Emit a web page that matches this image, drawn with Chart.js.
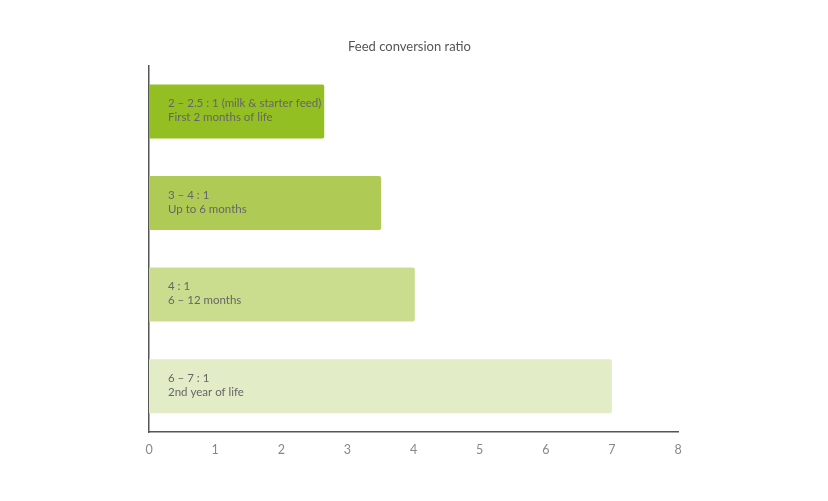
<!DOCTYPE html>
<html>
<head>
<meta charset="utf-8">
<script src="https://cdn.jsdelivr.net/npm/chart.js@4"></script>
<style>
    html, body { margin: 0; padding: 0; background: #fff; }
    #wrap { width: 828px; height: 501px; }
</style>
</head>
<body>
<div id="wrap"><canvas id="chart"></canvas></div>
<script>
// Chart data
const categories = ["First 2 months of life", "Up to 6 months", "6 – 12 months", "2nd year of life"];
const ratioLabels = ["2 – 2.5 : 1 (milk & starter feed)", "3 – 4 : 1", "4 : 1", "6 – 7 : 1"];
const ratioValues = [2.65, 3.51, 4.02, 7];
const xTicks = [0, 1, 2, 3, 4, 5, 6, 7, 8];
const barColors = ["#93bf22", "#b0cb55", "#cadd8f", "#e2ecc6"];

const FONT = "Lato, 'Open Sans', sans-serif";

/**
 * Writes the two text lines inside each bar
 */
const barTextPlugin = {
    id: "barText",
    afterDatasetsDraw(chart) {
        const ctx = chart.ctx;
        const meta = chart.getDatasetMeta(0);
        ctx.save();
        ctx.font = `11.5px ${FONT}`;
        ctx.fillStyle = "#666";
        ctx.textBaseline = "middle";
        meta.data.forEach((bar, i) => {
            const x = chart.chartArea.left + 19;
            ctx.fillText(ratioLabels[i], x, bar.y - 8);
            ctx.fillText(categories[i], x, bar.y + 6);
        });
        ctx.restore();
    },
};

new Chart(document.getElementById("chart"), {
    type: "bar",
    data: {
        labels: categories,
        datasets: [{
            data: ratioValues,
            backgroundColor: barColors,
            borderRadius: 2,
            borderSkipped: "start",
            categoryPercentage: 1,
            barPercentage: 0.59,
        }],
    },
    options: {
        indexAxis: "y",
        responsive: true,
        maintainAspectRatio: false,
        animation: false,
        layout: { padding: { left: 141, right: 150, top: 0, bottom: 42 } },
        scales: {
            x: {
                min: 0,
                max: 8,
                afterBuildTicks: (axis) => { axis.ticks = xTicks.map((v) => ({ value: v })); },
                grid: { display: false },
                border: { color: "#555", width: 1.5 },
                ticks: { color: "#888", font: { family: FONT, size: 12.5 }, padding: 2 },
            },
            y: {
                grid: { display: false },
                border: { color: "#555", width: 1.5 },
                ticks: { display: false },
            },
        },
        plugins: {
            legend: { display: false },
            tooltip: { enabled: false },
            title: {
                display: true,
                text: "Feed conversion ratio",
                color: "#555",
                font: { family: FONT, size: 13, weight: "normal" },
                padding: { top: 39, bottom: 11 },
            },
        },
    },
    plugins: [barTextPlugin],
});
</script>
</body>
</html>
